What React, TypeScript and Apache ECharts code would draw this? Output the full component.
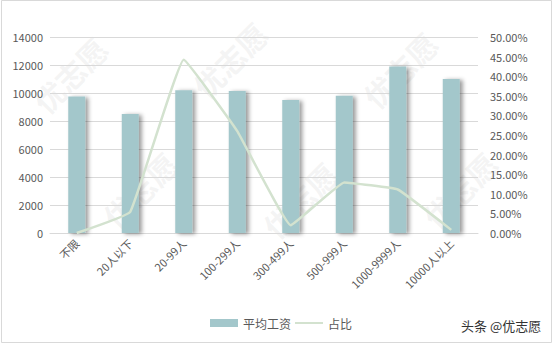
import React, { useEffect, useRef } from "react";
import * as echarts from "echarts";

const categories = ["不限", "20人以下", "20-99人", "100-299人", "300-499人", "500-999人", "1000-9999人", "10000人以上"];
const avgSalary = [9750, 8500, 10200, 10150, 9500, 9800, 11900, 11000];
const share = [0.0, 0.054, 0.442, 0.26, 0.02, 0.129, 0.111, 0.008];
const salaryTicks = { min: 0, max: 14000, interval: 2000 };
const shareTicks = { min: 0, max: 0.5, interval: 0.05 };

const BAR = "#a3c7cb";
const LINE = "#d3e2cf";

export default function App() {
  const ref = useRef<HTMLDivElement>(null);

  useEffect(() => {
    document.body.style.margin = "0";
    const chart = echarts.init(ref.current!, null, { renderer: "svg" });
    const font = "'Microsoft YaHei', 'Noto Sans CJK SC', sans-serif";
    const marks: any[] = [];
    // faint diagonal brand marks across the canvas
    const spots = [
      [70, 75], [230, 60], [400, 70], [140, 190], [300, 200], [460, 190],
    ];
    spots.forEach(([x, y]) =>
      marks.push({
        type: "text",
        x,
        y,
        rotation: Math.PI / 4,
        silent: true,
        z: 0,
        style: { text: "优志愿", fill: "rgba(200,200,200,0.2)", font: `bold 30px ${font}`, align: "center", verticalAlign: "middle" },
      })
    );
    marks.push({
      type: "rect",
      shape: { x: 1.5, y: 0.5, width: 550, height: 342 },
      style: { fill: "none", stroke: "#d9d9d9", lineWidth: 1 },
      silent: true,
    });
    marks.push({
      type: "text",
      x: 461,
      y: 319,
      style: { text: "头条 @优志愿", fill: "#333", font: `13px ${font}` },
      z: 10,
    });

    chart.setOption({
      animation: false,
      backgroundColor: "#fff",
      textStyle: { fontFamily: font },
      graphic: marks,
      grid: { left: 50, right: 79, top: 37, bottom: 115 },
      legend: {
        bottom: 14,
        left: 205,
        itemWidth: 28,
        itemHeight: 8,
        itemGap: 4,
        textStyle: { color: "#595959", fontSize: 12 },
        data: [
          { name: "平均工资", icon: "rect" },
          { name: "占比", icon: "path://M0,0L28,0L28,2L0,2Z" },
        ],
      },
      xAxis: {
        type: "category",
        data: categories,
        axisTick: { show: false },
        axisLine: { lineStyle: { color: "#d9d9d9" } },
        axisLabel: { rotate: 45, color: "#595959", fontSize: 11, margin: 8, interval: 0 },
      },
      yAxis: [
        {
          type: "value",
          ...salaryTicks,
          axisLabel: { color: "#595959", fontSize: 11, margin: 7, formatter: (v: number) => String(v) },
          splitLine: { lineStyle: { color: "#d9d9d9" } },
          axisLine: { show: false },
          axisTick: { show: false },
        },
        {
          type: "value",
          ...shareTicks,
          position: "right",
          axisLabel: {
            color: "#595959",
            fontSize: 11,
            margin: 12,
            formatter: (v: number) => (v * 100).toFixed(2) + "%",
          },
          splitLine: { show: false },
          axisLine: { show: false },
          axisTick: { show: false },
        },
      ],
      series: [
        {
          name: "平均工资",
          type: "bar",
          data: avgSalary,
          barWidth: 17,
          itemStyle: {
            color: BAR,
            shadowColor: "rgba(0,0,0,0.4)",
            shadowBlur: 4,
            shadowOffsetX: 3,
            shadowOffsetY: 1,
          },
        },
        {
          name: "占比",
          type: "line",
          yAxisIndex: 1,
          data: share,
          smooth: 0.08,
          symbol: "none",
          lineStyle: { color: LINE, width: 2.5 },
          itemStyle: { color: LINE },
          z: 5,
        },
      ],
    });
    return () => chart.dispose();
  }, []);

  return <div ref={ref} style={{ width: 557, height: 348 }} />;
}
